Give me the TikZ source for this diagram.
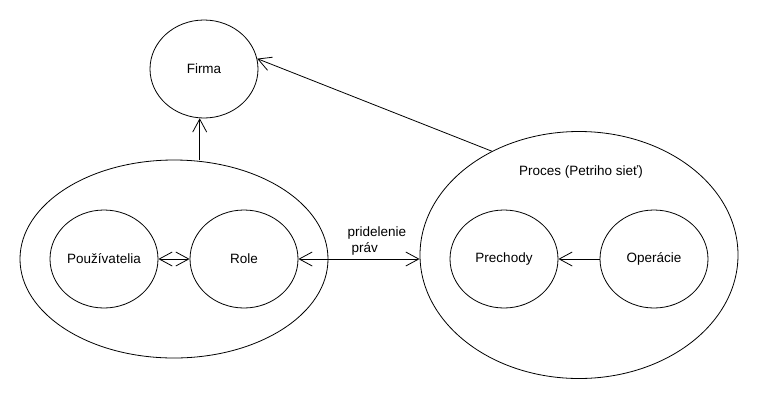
\documentclass[tikz,border=0pt]{standalone}
\usepackage{fontspec}
\setmainfont{Liberation Sans}
\usetikzlibrary{shapes.geometric,arrows.meta}
\begin{document}
\begin{tikzpicture}[x=1pt,y=-1pt,
  oval/.style={draw, ellipse, line width=0.8pt, inner sep=0pt},
  lbl/.style={font=\fontsize{13.5}{16}\selectfont},
  conn/.style={line width=0.8pt, arrows={-Straight Barb[length=13pt,width=14pt]}},
  conn2/.style={line width=0.8pt, arrows={Straight Barb[length=13pt,width=14pt]-Straight Barb[length=13pt,width=14pt]}}]
\useasboundingbox[fill=white] (0,0) rectangle (760,400);
\node[oval, minimum width=108pt, minimum height=98pt, lbl] (firma) at (204,69) {Firma};
\node[oval, minimum width=308pt, minimum height=198pt] (grp) at (174,259) {};
\node[oval, minimum width=108pt, minimum height=98pt, lbl] (pouz) at (104,259) {Používatelia};
\node[oval, minimum width=108pt, minimum height=98pt, lbl] (role) at (244,259) {Role};
\node[oval, minimum width=318pt, minimum height=247pt] (proc) at (579,255) {};
\node[lbl] (proct) at (581,172) {Proces (Petriho sieť)};
\node[oval, minimum width=108pt, minimum height=98pt, lbl] (prech) at (504,259) {Prechody};
\node[oval, minimum width=108pt, minimum height=98pt, lbl] (oper) at (654,259) {Operácie};
\node[lbl, align=left, anchor=west] (prid) at (344,241) {pridelenie\\\hspace{4pt}práv};
\coordinate (fb) at (firma.265);
\draw[conn] (grp.north -| fb) -- (fb);
\draw[conn] (proc.130) -- (firma.11);
\draw[conn2] (pouz.east) -- (role.west);
\draw[conn2] (role.east) -- (proc.west |- role.east);
\draw[conn] (oper.west) -- (prech.east);
\end{tikzpicture}
\end{document}
